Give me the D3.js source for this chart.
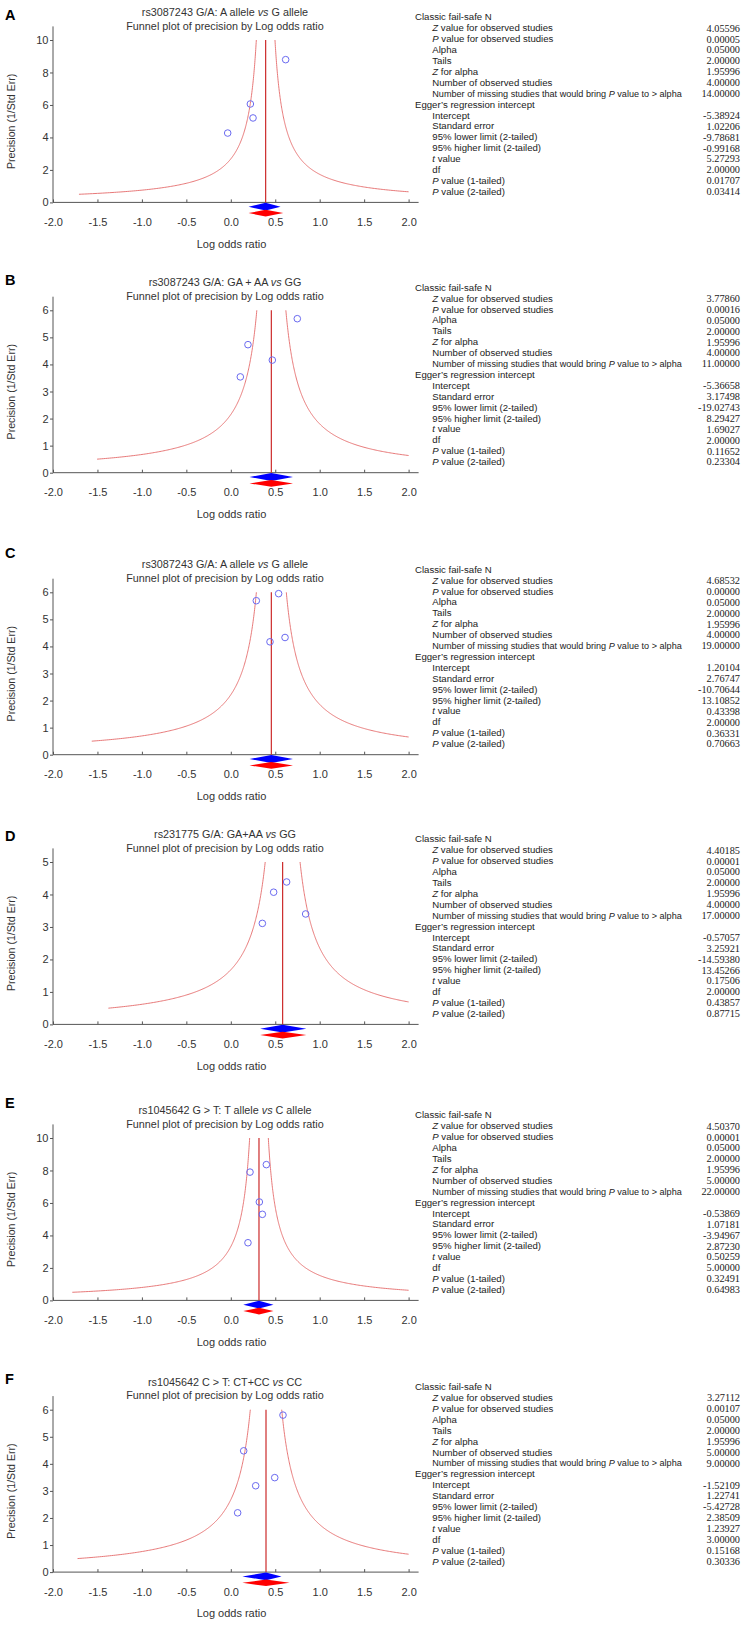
<!DOCTYPE html>
<html>
<head>
<meta charset="utf-8">
<script src="https://cdn.jsdelivr.net/npm/d3@7"></script>
<style>
  body { margin: 0; background: #ffffff; }
  svg { display: block; font-family: "Liberation Sans", Arial, sans-serif; }
</style>
</head>
<body>
<div id="chart"></div>
<script>
// ---------------------------------------------------------------------------//
// Data (panels A-F)
// ---------------------------------------------------------------------------//
const panelLetters = ["A", "B", "C", "D", "E", "F"];

// "*vs*" marks the italic part
const panelTitles = [
  "rs3087243 G/A: A allele *vs* G allele",
  "rs3087243 G/A: GA + AA *vs* GG",
  "rs3087243 G/A: A allele *vs* G allele",
  "rs231775 G/A: GA+AA *vs* GG",
  "rs1045642 G > T: T allele *vs* C allele",
  "rs1045642 C > T: CT+CC *vs* CC",
];
const subTitle = "Funnel plot of precision by Log odds ratio";

const yMaxValues = [10, 6, 6, 5, 10, 6];
const yTickSteps = [2, 1, 1, 1, 2, 1];
const xTickValues = [-2.0, -1.5, -1.0, -0.5, 0.0, 0.5, 1.0, 1.5, 2.0];

// individual studies: log odds ratio and precision (1/SE)
const studyLogOR = [
  [-0.035, 0.22, 0.25, 0.617],
  [0.107, 0.193, 0.467, 0.748],
  [0.287, 0.538, 0.441, 0.61],
  [0.355, 0.482, 0.628, 0.842],
  [0.216, 0.40, 0.321, 0.355, 0.193],
  [0.145, 0.587, 0.28, 0.494, 0.077],
];
const studyPrecision = [
  [4.27, 6.06, 5.2, 8.79],
  [3.54, 4.73, 4.16, 5.69],
  [5.69, 5.95, 4.17, 4.33],
  [3.11, 4.07, 4.385, 3.40],
  [7.9, 8.36, 6.06, 5.30, 3.55],
  [4.48, 5.80, 3.19, 3.49, 2.19],
];

// pooled estimate (vertical line) and funnel width constant
const pooledLogOR = [0.392, 0.456, 0.456, 0.583, 0.317, 0.396];
const funnelK = [1.05, 0.98, 1.01, 0.98, 1.05, 1.06];
const funnelMinPrecision = 0.5;

// combined-effect diamonds [low, high]
const observedDiamond = [[0.20, 0.56], [0.21, 0.70], [0.21, 0.70], [0.33, 0.85], [0.14, 0.48], [0.13, 0.57]];
const adjustedDiamond = [[0.20, 0.59], [0.21, 0.70], [0.21, 0.70], [0.33, 0.85], [0.14, 0.48], [0.13, 0.66]];

// statistics table ("*x*" marks italic)
const statLabels = [
  "Classic fail-safe N",
  "*Z* value for observed studies",
  "*P* value for observed studies",
  "Alpha",
  "Tails",
  "*Z* for alpha",
  "Number of observed studies",
  "Number of missing studies that would bring *P* value to > alpha",
  "Egger\u2019s regression intercept",
  "Intercept",
  "Standard error",
  "95% lower limit (2-tailed)",
  "95% higher limit (2-tailed)",
  "*t* value",
  "df",
  "*P* value (1-tailed)",
  "*P* value (2-tailed)",
];
const statHeaderRows = [0, 8];

const statValues = [
  ["4.05596", "0.00005", "0.05000", "2.00000", "1.95996", "4.00000", "14.00000",
   "-5.38924", "1.02206", "-9.78681", "-0.99168", "5.27293", "2.00000", "0.01707", "0.03414"],
  ["3.77860", "0.00016", "0.05000", "2.00000", "1.95996", "4.00000", "11.00000",
   "-5.36658", "3.17498", "-19.02743", "8.29427", "1.69027", "2.00000", "0.11652", "0.23304"],
  ["4.68532", "0.00000", "0.05000", "2.00000", "1.95996", "4.00000", "19.00000",
   "1.20104", "2.76747", "-10.70644", "13.10852", "0.43398", "2.00000", "0.36331", "0.70663"],
  ["4.40185", "0.00001", "0.05000", "2.00000", "1.95996", "4.00000", "17.00000",
   "-0.57057", "3.25921", "-14.59380", "13.45266", "0.17506", "2.00000", "0.43857", "0.87715"],
  ["4.50370", "0.00001", "0.05000", "2.00000", "1.95996", "5.00000", "22.00000",
   "-0.53869", "1.07181", "-3.94967", "2.87230", "0.50259", "5.00000", "0.32491", "0.64983"],
  ["3.27112", "0.00107", "0.05000", "2.00000", "1.95996", "5.00000", "9.00000",
   "-1.52109", "1.22741", "-5.42728", "2.38509", "1.23927", "3.00000", "0.15168", "0.30336"],
];

// ---------------------------------------------------------------------------//
// Layout
// ---------------------------------------------------------------------------//
const width = 749;
const height = 1625;
const panelTop = [12, 282.3, 564.3, 834, 1110, 1381.7]; // centre of first title line
const letterY = [15, 280, 553, 836, 1103, 1379];
const axisLeft = 53;
const axisRight = 408.6;
const titleToAxis = 190.4;
const plotHeight = 162.4;
const textColor = "#333";
const axisColor = "#555";

const svg = d3.select("#chart")
  .append("svg")
  .attr("width", width)
  .attr("height", height);

// helper: write "*italic*" marked text into a text element as tspans
function writeRich(textSel, str) {
  str.split("*").forEach((part, i) => {
    if (!part) return;
    textSel.append("tspan")
      .attr("font-style", i % 2 ? "italic" : null)
      .text(part);
  });
}

panelLetters.forEach((letter, p) => drawPanel(p));

function drawPanel(p) {
  const top = panelTop[p];
  const y0 = top + titleToAxis;
  const yMax = yMaxValues[p];
  const g = svg.append("g").attr("class", "panel");

  const x = d3.scaleLinear().domain([-2, 2]).range([axisLeft, axisRight]);
  const y = d3.scaleLinear().domain([0, yMax]).range([y0, y0 - plotHeight]);

  // panel letter
  g.append("text")
    .attr("x", 5)
    .attr("y", letterY[p])
    .attr("dy", "0.36em")
    .attr("font-size", 14.5)
    .attr("font-weight", "bold")
    .attr("fill", "#000")
    .text(panelLetters[p]);

  // titles
  const t1 = g.append("text")
    .attr("x", 225)
    .attr("y", top)
    .attr("dy", "0.36em")
    .attr("text-anchor", "middle")
    .attr("font-size", 10.8)
    .attr("fill", textColor);
  writeRich(t1, panelTitles[p]);

  g.append("text")
    .attr("x", 225)
    .attr("y", top + 13.7)
    .attr("dy", "0.36em")
    .attr("text-anchor", "middle")
    .attr("font-size", 10.8)
    .attr("fill", textColor)
    .text(subTitle);

  // axes
  const xAxis = d3.axisBottom(x)
    .tickValues(xTickValues)
    .tickFormat((d) => d.toFixed(1))
    .tickSizeInner(-3)
    .tickSizeOuter(0)
    .tickPadding(16);

  const yAxis = d3.axisLeft(y)
    .tickValues(d3.range(0, yMax + 0.001, yTickSteps[p]))
    .tickFormat(d3.format("d"))
    .tickSizeInner(3)
    .tickSizeOuter(0)
    .tickPadding(1.5);

  const gx = g.append("g").attr("transform", `translate(0,${y0})`).call(xAxis);
  const gy = g.append("g").attr("transform", `translate(${axisLeft},0)`).call(yAxis);
  [gx, gy].forEach((a) => {
    a.select(".domain").remove();
    a.selectAll(".tick line").attr("stroke", axisColor);
    a.selectAll(".tick text")
      .attr("fill", textColor)
      .attr("font-size", 11)
      .attr("font-family", "'Liberation Sans', Arial, sans-serif");
  });

  g.append("line")
    .attr("x1", axisLeft).attr("x2", axisRight + 10)
    .attr("y1", y0).attr("y2", y0)
    .attr("stroke", axisColor);
  g.append("line")
    .attr("x1", axisLeft).attr("x2", axisLeft)
    .attr("y1", y0).attr("y2", y0 - plotHeight - 13.6)
    .attr("stroke", axisColor);

  // axis titles
  g.append("text")
    .attr("x", 231.5)
    .attr("y", y0 + 41.4)
    .attr("dy", "0.36em")
    .attr("text-anchor", "middle")
    .attr("font-size", 11)
    .attr("fill", textColor)
    .text("Log odds ratio");

  g.append("text")
    .attr("transform", `translate(11,${y0 - 81}) rotate(-90)`)
    .attr("dy", "0.36em")
    .attr("text-anchor", "middle")
    .attr("font-size", 10.6)
    .attr("fill", textColor)
    .text("Precision (1/Std Err)");

  // funnel
  const c = pooledLogOR[p];
  const k = funnelK[p];
  const line = d3.line().x((d) => x(d[0])).y((d) => y(d[1]));
  const branch = (sign) => {
    const pStart = sign < 0
      ? Math.max(funnelMinPrecision, k / (c + 2))
      : Math.max(funnelMinPrecision, k / (2 - c));
    return d3.range(0, 201).map((i) => {
      const prec = pStart * Math.pow(yMax / pStart, i / 200);
      return [c + sign * k / prec, prec];
    });
  };
  [-1, 1].forEach((s) => {
    g.append("path")
      .attr("d", line(branch(s)))
      .attr("fill", "none")
      .attr("stroke", "#e46a6a")
      .attr("stroke-width", 0.9);
  });

  g.append("line")
    .attr("x1", x(c)).attr("x2", x(c))
    .attr("y1", y(0)).attr("y2", y(yMax))
    .attr("stroke", "#cc2b2b")
    .attr("stroke-width", 1.2);

  // diamonds
  const diamond = (lohi, cy, h) => {
    const pts = [[x(lohi[0]), cy], [x(c), cy - h], [x(lohi[1]), cy], [x(c), cy + h]];
    return "M" + pts.map((q) => q.join(",")).join("L") + "Z";
  };
  g.append("path").attr("d", diamond(observedDiamond[p], y0 + 4.3, 3.9)).attr("fill", "#0000ff");
  g.append("path").attr("d", diamond(adjustedDiamond[p], y0 + 10.7, 3.3)).attr("fill", "#ff0000");

  // studies
  g.selectAll("circle.study")
    .data(studyLogOR[p].map((v, i) => [v, studyPrecision[p][i]]))
    .join("circle")
    .attr("class", "study")
    .attr("cx", (d) => x(d[0]))
    .attr("cy", (d) => y(d[1]))
    .attr("r", 3.3)
    .attr("fill", "none")
    .attr("stroke", "#6a6af0")
    .attr("stroke-width", 1);

  // statistics table
  const lineH = 10.9;
  let vi = 0;
  statLabels.forEach((label, r) => {
    const ry = top + 5 + r * lineH;
    const isHeader = statHeaderRows.includes(r);
    // the long label is set a touch smaller so it clears the value column
    const t = g.append("text")
      .attr("x", isHeader ? 415 : 432.3)
      .attr("y", ry)
      .attr("dy", "0.36em")
      .attr("font-size", label.length > 40 ? 9.1 : 9.6)
      .attr("fill", "#222");
    writeRich(t, label);
    if (!isHeader) {
      g.append("text")
        .attr("x", 740)
        .attr("y", ry)
        .attr("dy", "0.36em")
        .attr("text-anchor", "end")
        .attr("font-family", "'Liberation Serif', 'Times New Roman', serif")
        .attr("font-size", 10.3)
        .attr("fill", "#222")
        .text(statValues[p][vi++]);
    }
  });
}
</script>
</body>
</html>
